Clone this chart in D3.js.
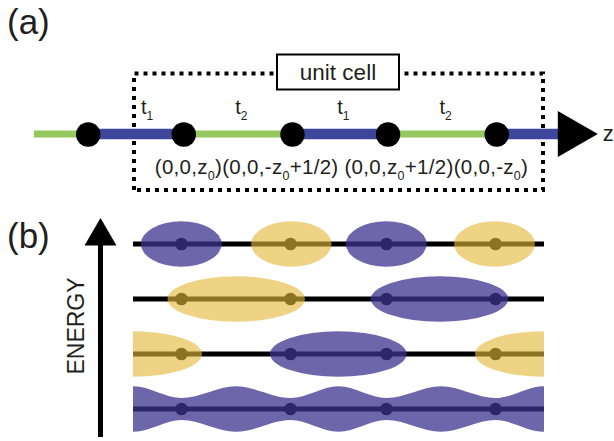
<!DOCTYPE html>
<html>
<head>
<meta charset="utf-8">
<script src="https://cdn.jsdelivr.net/npm/d3@7"></script>
<style>
  html, body { margin: 0; padding: 0; background: #fff; }
  svg { display: block; font-family: "Liberation Sans", Arial, Helvetica, sans-serif; }
</style>
</head>
<body>
<svg id="fig" width="614" height="441"></svg>
<script>
// ---- Data ---------------------------------------------------------------
// Atom sites along z, in fractions of the unit cell (z0 ~ 0.117)
const siteZ = [-0.117, 0.117, 0.383, 0.617, 0.883];
// Hopping type of each bond between neighbouring sites
const bondType = ["t1", "t2", "t1", "t2"];
// Chain tails beyond the first / last site
const chainTail = [
  { z0: -0.25, z1: -0.117, type: "t2" },
  { z0: 0.883, z1: 1.062, type: "t1" }
];
// Site coordinates inside the unit cell ("_" marks a subscript)
const siteLabels = ["(0,0,z_0)", "(0,0,-z_0+1/2)", " (0,0,z_0+1/2)", "(0,0,-z_0)"];

// Molecular-orbital levels, highest energy first
const levels = ["L4", "L3", "L2", "L1"];
// Lobes per level: [z start, z end, sign of the wavefunction]
const lobesL4 = [[0.018, 0.215, 1], [0.287, 0.483, -1], [0.518, 0.715, 1], [0.782, 0.979, -1]];
const lobesL3 = [[0.083, 0.418, -1], [0.579, 0.914, 1]];
const lobesL2 = [[-0.167, 0.167, -1], [0.333, 0.666, 1], [0.833, 1.167, -1]];
// Lowest level: one delocalised band, relative amplitude along z
const bandZ   = [-0.117, 0.0, 0.117, 0.25, 0.383, 0.5, 0.617, 0.75, 0.883, 1.0, 1.117];
const bandAmp = [0.48,   1.0, 0.48,  1.0,  0.48,  1.0, 0.48,  1.0,  0.48,  1.0, 0.48];

// ---- Styles -------------------------------------------------------------
const ink = "#231f20";
const bondColor = { t1: "#3d469b", t2: "#95c95f" };
const bondWidth = { t1: 10.5, t2: 7 };
const lobeFill = { "1": "#3e338e", "-1": "#e3b83a" };
const lobeOpacity = { "1": 0.75, "-1": 0.62 };

const svg = d3.select("#fig");

// ---- Panel (a): the chain ----------------------------------------------
const xA = d3.scaleLinear().domain([0, 1]).range([136, 544.5]);
const xB = d3.scaleLinear().domain([0, 1]).range([133.5, 543.5]);
const yChain = 134;

svg.append("text").attr("x", 7).attr("y", 33.5)
  .attr("font-size", 35).attr("fill", ink).text("(a)");

// dotted unit-cell frame
const box = { x0: xB(0) + 0.5, x1: xB(1) - 0.5, y0: 73.5, y1: 190 };
svg.append("path")
  .attr("d", `M${box.x0},${box.y1} V${box.y0} H${box.x1} V${box.y1} Z`)
  .attr("fill", "none").attr("stroke", "#000")
  .attr("stroke-width", 4).attr("stroke-dasharray", "4,5");

// "unit cell" tag
const tagG = svg.append("g");
tagG.append("rect").attr("x", 277).attr("y", 54.5).attr("width", 122).attr("height", 35)
  .attr("fill", "#fff").attr("stroke", "#000").attr("stroke-width", 2);
tagG.append("text").attr("x", 338).attr("y", 79.5).attr("text-anchor", "middle")
  .attr("font-size", 22.5).attr("fill", ink).text("unit cell");

// bonds
const segments = [chainTail[0]]
  .concat(bondType.map((t, i) => ({ z0: siteZ[i], z1: siteZ[i + 1], type: t })))
  .concat([chainTail[1]]);

svg.append("g").selectAll("line").data(segments).join("line")
  .attr("x1", d => xA(d.z0)).attr("x2", d => xA(d.z1))
  .attr("y1", yChain).attr("y2", yChain)
  .attr("stroke", d => bondColor[d.type])
  .attr("stroke-width", d => bondWidth[d.type]);

// axis arrow head and label
const zEnd = xA(chainTail[1].z1);
svg.append("path")
  .attr("d", `M${zEnd - 12},${yChain - 23} L${zEnd + 28},${yChain} L${zEnd - 12},${yChain + 23} Z`)
  .attr("fill", "#000");
svg.append("text").attr("x", zEnd + 33).attr("y", yChain + 7)
  .attr("font-size", 22).attr("fill", ink).text("z");

// atoms
svg.append("g").selectAll("circle").data(siteZ).join("circle")
  .attr("cx", d => xA(d)).attr("cy", yChain + 0.5).attr("r", 12.2).attr("fill", "#000");

// hopping labels
const tLabels = svg.append("g").selectAll("text")
  .data(bondType.map((t, i) => ({ t, mid: (siteZ[i] + siteZ[i + 1]) / 2 })))
  .join("text")
  .attr("x", d => Math.max(xA(d.mid) - 3, box.x0 + 7))
  .attr("y", 114).attr("font-size", 20).attr("fill", ink);
tLabels.append("tspan").text(d => d.t[0]);
tLabels.append("tspan").attr("font-size", 12).attr("dy", 6).text(d => d.t.slice(1));

// site coordinates
const coord = svg.append("text").attr("x", xB(0.5) + 3).attr("y", 174)
  .attr("text-anchor", "middle").attr("font-size", 20.5).attr("letter-spacing", 0.3)
  .attr("fill", ink);
const parts = [];
siteLabels.forEach(s => {
  s.split(/(_\w)/).filter(p => p.length).forEach(p => {
    parts.push(p[0] === "_" ? { txt: p.slice(1), sub: true } : { txt: p, sub: false });
  });
});
let shifted = false;
parts.forEach(p => {
  const ts = coord.append("tspan").text(p.txt).attr("xml:space", "preserve");
  if (p.sub) { ts.attr("font-size", 12.5).attr("dy", 6); shifted = true; }
  else if (shifted) { ts.attr("dy", -6); shifted = false; }
});
coord.attr("xml:space", "preserve").style("white-space", "pre");

// ---- Panel (b): orbital levels -----------------------------------------
svg.append("text").attr("x", 7).attr("y", 247.5)
  .attr("font-size", 35).attr("fill", ink).text("(b)");

const yLevel = d3.scalePoint().domain(levels).range([244, 409]);
const ry = 22.8;

// energy axis
const axX = 100.5;
svg.append("line").attr("x1", axX).attr("x2", axX).attr("y1", 437).attr("y2", 240)
  .attr("stroke", "#000").attr("stroke-width", 5);
svg.append("path").attr("d", `M${axX},218 L${axX + 16},245.5 L${axX - 16},245.5 Z`).attr("fill", "#000");
svg.append("text").attr("transform", `translate(83.5,326) rotate(-90)`)
  .attr("text-anchor", "middle").attr("font-size", 23).attr("fill", ink).text("ENERGY");

svg.append("defs").append("clipPath").attr("id", "rowClip")
  .append("rect").attr("x", xB(0) - 0.5).attr("y", 200)
  .attr("width", xB(1) - xB(0) + 1).attr("height", 241);

const rows = svg.append("g").attr("clip-path", "url(#rowClip)");
const siteIn = siteZ.filter(z => z >= 0 && z <= 1);
const lobeSets = { L4: lobesL4, L3: lobesL3, L2: lobesL2 };

levels.forEach(lv => {
  const cy = yLevel(lv);
  const g = rows.append("g");
  g.append("line").attr("x1", xB(0) - 0.5).attr("x2", xB(1) + 0.5)
    .attr("y1", cy).attr("y2", cy).attr("stroke", "#000").attr("stroke-width", 4.8);
  g.selectAll("circle").data(siteIn).join("circle")
    .attr("cx", d => xB(d)).attr("cy", cy).attr("r", 6.3).attr("fill", "#000");

  if (lobeSets[lv]) {
    g.selectAll("ellipse").data(lobeSets[lv]).join("ellipse")
      .attr("cx", d => xB((d[0] + d[1]) / 2))
      .attr("cy", cy)
      .attr("rx", d => (xB(d[1]) - xB(d[0])) / 2)
      .attr("ry", ry)
      .attr("fill", d => lobeFill[d[2]])
      .attr("fill-opacity", d => lobeOpacity[d[2]]);
  } else {
    const area = d3.area()
      .x(d => xB(d[0]))
      .y0(d => cy - d[1] * ry)
      .y1(d => cy + d[1] * ry)
      .curve(d3.curveMonotoneX);
    g.append("path").datum(bandZ.map((z, i) => [z, bandAmp[i]]))
      .attr("d", area)
      .attr("fill", lobeFill["1"]).attr("fill-opacity", lobeOpacity["1"]);
  }
});
</script>
</body>
</html>
